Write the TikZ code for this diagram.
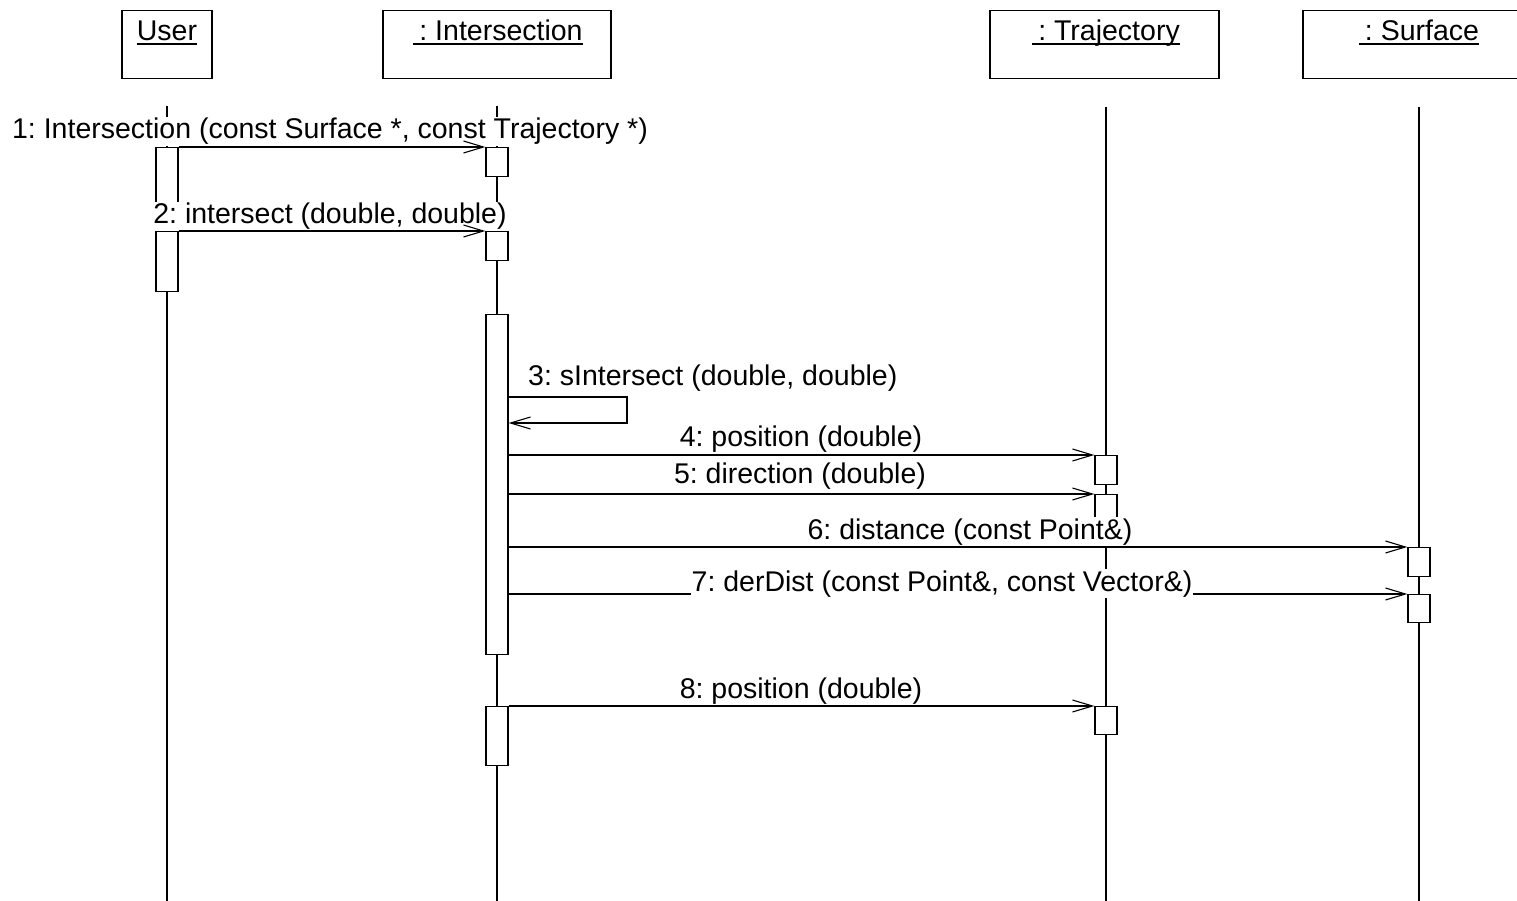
\documentclass[tikz,border=0pt]{standalone}
\usepackage{fontspec}
\setmainfont{Liberation Sans}
\usetikzlibrary{arrows.meta}
\frenchspacing
\begin{document}
\begin{tikzpicture}[x=1pt,y=-1pt,
  every node/.style={font=\fontsize{28.5pt}{34pt}\selectfont},
  head/.style={draw, line width=1.4pt, minimum height=68pt, inner sep=0pt, anchor=north},
  title/.style={inner sep=0pt, anchor=base},
  uline/.style={line width=1.2pt},
  lifeline/.style={line width=1.3pt},
  bar/.style={draw, fill=white, line width=1.3pt, minimum width=22pt, inner sep=0pt, anchor=north},
  msg/.style={line width=1.3pt, -{Straight Barb[length=20pt,width=12pt,line width=1.1pt]}},
  lbl/.style={fill=white, inner sep=1pt, anchor=base}
]
\path[use as bounding box] (0,0) rectangle (1517,901);
\clip (0,0) rectangle (1517,901);

% object boxes
\node[head, minimum width=90pt]  (user)  at (167,10) {};
\node[head, minimum width=228pt] (inter) at (497,10) {};
\node[head, minimum width=229pt] (traj)  at (1104.5,10) {};
\node[head, minimum width=232pt] (surf)  at (1419,10) {};

% underlined object names
\node[title] (userT)  at (167,41)  {User};
\node[title] (interT) at (498,41)  {\hspace*{6pt}: Intersection};
\node[title] (trajT)  at (1106,41) {\hspace*{6pt}: Trajectory};
\node[title] (surfT)  at (1419,41) {\hspace*{6pt}: Surface};
\foreach \t in {userT,interT,trajT,surfT}
  \draw[uline] ([yshift=-3pt]\t.base west) -- ([yshift=-3pt]\t.base east);

% lifelines
\coordinate (userTop)  at (167,106);  \coordinate (userEnd)  at (167,901);
\coordinate (interTop) at (497,106);  \coordinate (interEnd) at (497,901);
\coordinate (trajTop)  at (1106,107); \coordinate (trajEnd)  at (1106,901);
\coordinate (surfTop)  at (1419,107); \coordinate (surfEnd)  at (1419,901);
\draw[lifeline] (userTop) -- (userEnd);
\draw[lifeline] (interTop) -- (interEnd);
\draw[lifeline] (trajTop) -- (trajEnd);
\draw[lifeline] (surfTop) -- (surfEnd);

% activation bars
\node[bar, minimum height=60pt]  (ub1) at (167,147) {};
\node[bar, minimum height=60pt]  (ub2) at (167,231) {};
\node[bar, minimum height=29pt]  (ib1) at (497,147) {};
\node[bar, minimum height=29pt]  (ib2) at (497,231) {};
\node[bar, minimum height=340pt] (ib3) at (497,314) {};
\node[bar, minimum height=59pt]  (ib4) at (497,706) {};
\node[bar, minimum height=29pt]  (tb1) at (1106,455) {};
\node[bar, minimum height=29pt]  (tb2) at (1106,494) {};
\node[bar, minimum height=28pt]  (tb3) at (1106,706) {};
\node[bar, minimum height=29pt]  (sb1) at (1419,547) {};
\node[bar, minimum height=28pt]  (sb2) at (1419,594) {};

% message 7 runs behind its own label
\draw[msg] (ib3.east |- sb2.north) -- (sb2.north west);

% message labels (opaque, they hide the lines behind them)
\node[lbl] (m1) at (330,139) {1: Intersection (const Surface *, const Trajectory *)};
\node[lbl] (m2) at (330,224) {2: intersect (double, double)};
\node[lbl, anchor=base west] (m3) at (527,385) {3: sIntersect (double, double)};
\node[lbl] (m4) at (801,446) {4: position (double)};
\node[lbl] (m5) at (800,483) {5: direction (double)};
\node[lbl] (m6) at (970,539) {6: distance (const Point\&)};
\node[lbl] (m7) at (942,591) {7: derDist (const Point\&, const Vector\&)};
\node[lbl] (m8) at (801,698) {8: position (double)};

% remaining messages
\draw[msg] (ub1.north east) -- (ib1.north west);
\draw[msg] (ub2.north east) -- (ib2.north west);
\coordinate (loopA) at (627,397);
\coordinate (loopB) at (627,423);
\draw[msg] (ib3.east |- loopA) -- (loopA) -- (loopB) -- (ib3.east |- loopB);
\draw[msg] (ib3.east |- tb1.north) -- (tb1.north west);
\draw[msg] (ib3.east |- tb2.north) -- (tb2.north west);
\draw[msg] (ib3.east |- sb1.north) -- (sb1.north west);
\draw[msg] (ib4.north east) -- (tb3.north west);
\end{tikzpicture}
\end{document}
